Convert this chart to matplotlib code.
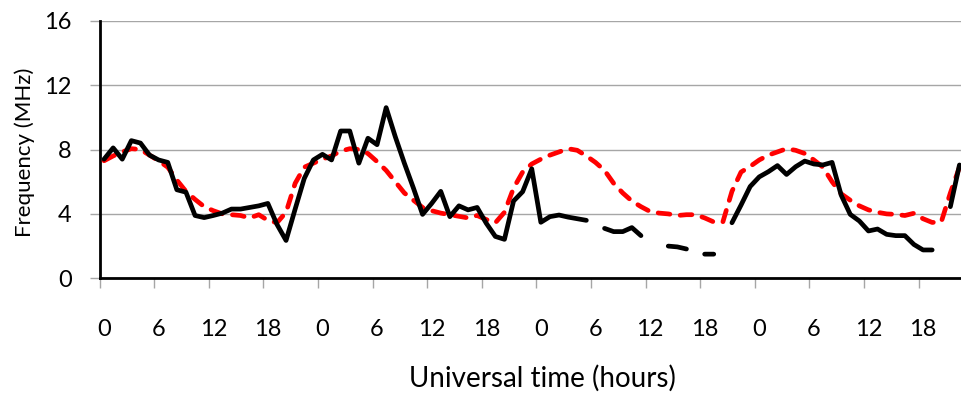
import numpy as np
import matplotlib
matplotlib.use("Agg")
import matplotlib.pyplot as plt
from matplotlib.ticker import FixedLocator, NullFormatter

plt.rcParams["font.family"] = ["Lato", "DejaVu Sans"]

nan = np.nan
hours = np.arange(95)

# measured frequency (black, gaps = no data)
observed = [7.4, 8.1, 7.4, 8.55, 8.4, 7.65, 7.35, 7.2, 5.5, 5.35,
            3.9, 3.77, 3.9, 4.05, 4.3, 4.3, 4.4, 4.5, 4.65, 3.35,
            2.35, 4.3, 6.2, 7.35, 7.7, 7.35, 9.15, 9.15, 7.15, 8.7,
            8.3, 10.6, 8.8, 7.15, 5.6, 3.97, 4.65, 5.4, 3.83, 4.5,
            4.25, 4.4, 3.42, 2.6, 2.42, 4.8, 5.38, 6.8, 3.48, 3.83,
            3.93, 3.8, 3.7, 3.6, nan, 3.1, 2.9, 2.9, 3.15, 2.65,
            nan, nan, 2.0, 1.95, 1.82, nan, 1.5, 1.5, nan, 3.45,
            4.55, 5.7, 6.3, 6.62, 7.0, 6.45, 6.93, 7.28, 7.1, 7.04,
            7.2, 5.17, 3.97, 3.56, 2.94, 3.06, 2.73, 2.65, 2.65, 2.1,
            1.76, 1.76, nan, 4.45, 7.04]

# model frequency (red dashed)
model = [7.3, 7.6, 7.85, 8.05, 8.0, 7.65, 7.3, 6.9, 6.1, 5.4,
         4.9, 4.45, 4.2, 4.0, 3.95, 3.9, 3.75, 3.95, 3.6, 3.45,
         4.1, 5.9, 6.9, 7.15, 7.4, 7.6, 7.9, 8.05, 8.0, 7.75,
         7.25, 6.7, 6.0, 5.3, 4.85, 4.4, 4.2, 4.05, 3.95, 3.85,
         3.75, 3.9, 3.65, 3.45, 4.1, 5.6, 6.6, 7.1, 7.4, 7.65,
         7.85, 8.05, 7.95, 7.6, 7.2, 6.7, 5.9, 5.3, 4.8, 4.45,
         4.15, 4.05, 4.0, 3.9, 3.95, 3.95, 3.75, 3.5, 3.5, 5.4,
         6.6, 6.95, 7.35, 7.65, 7.85, 8.05, 7.95, 7.75, 7.35, 6.9,
         6.0, 5.25, 4.85, 4.5, 4.25, 4.1, 4.0, 3.97, 3.9, 4.04,
         3.7, 3.47, 3.5, 5.3, 6.9]

tick_hours = np.arange(0, 91, 6)
tick_labels = [str(h % 24) for h in tick_hours]
y_ticks = [0, 4, 8, 12, 16]

W, H = 962, 393
fig = plt.figure(figsize=(W / 100, H / 100), dpi=100)
ax = fig.add_axes([99.5 / W, 1 - 278.3 / H, 1 - 99.5 / W, (278.3 - 20.7) / H])

grey = "#a6a6a6"
ax.plot(hours, model, color="#ff0000", lw=3.4, dashes=(2.5, 2.2),
        dash_capstyle="round", zorder=3)
ax.plot(hours, observed, color="black", lw=3.4, solid_capstyle="round",
        solid_joinstyle="round", zorder=4)

ax.set_xlim(-0.5, 94.28)
ax.set_ylim(0, 16)

ax.set_yticks(y_ticks)
ax.set_yticklabels([str(v) for v in y_ticks])
ax.yaxis.grid(True, color=grey, lw=1.0)
ax.set_axisbelow(True)

ax.xaxis.set_major_locator(FixedLocator(tick_hours))
ax.set_xticklabels(tick_labels)
ax.xaxis.set_minor_locator(FixedLocator(tick_hours - 0.5))
ax.xaxis.set_minor_formatter(NullFormatter())
ax.tick_params(axis="x", which="major", length=0, pad=29, labelsize=17)
ax.tick_params(axis="x", which="minor", length=7, width=1, color=grey)
ax.tick_params(axis="y", length=7, width=1, color=grey, pad=13, labelsize=17)

for s in ("top", "right"):
    ax.spines[s].set_visible(False)
for s in ("left", "bottom"):
    ax.spines[s].set_linewidth(2)
    ax.spines[s].set_color("black")

fig.text(25 / W, 1 - 152 / H, "Frequency (MHz)", rotation=90,
         ha="center", va="center", fontsize=16)
fig.text(542 / W, 1 - 378 / H, "Universal time (hours)",
         ha="center", va="center", fontsize=20)

fig.savefig("out.png", dpi=100)
